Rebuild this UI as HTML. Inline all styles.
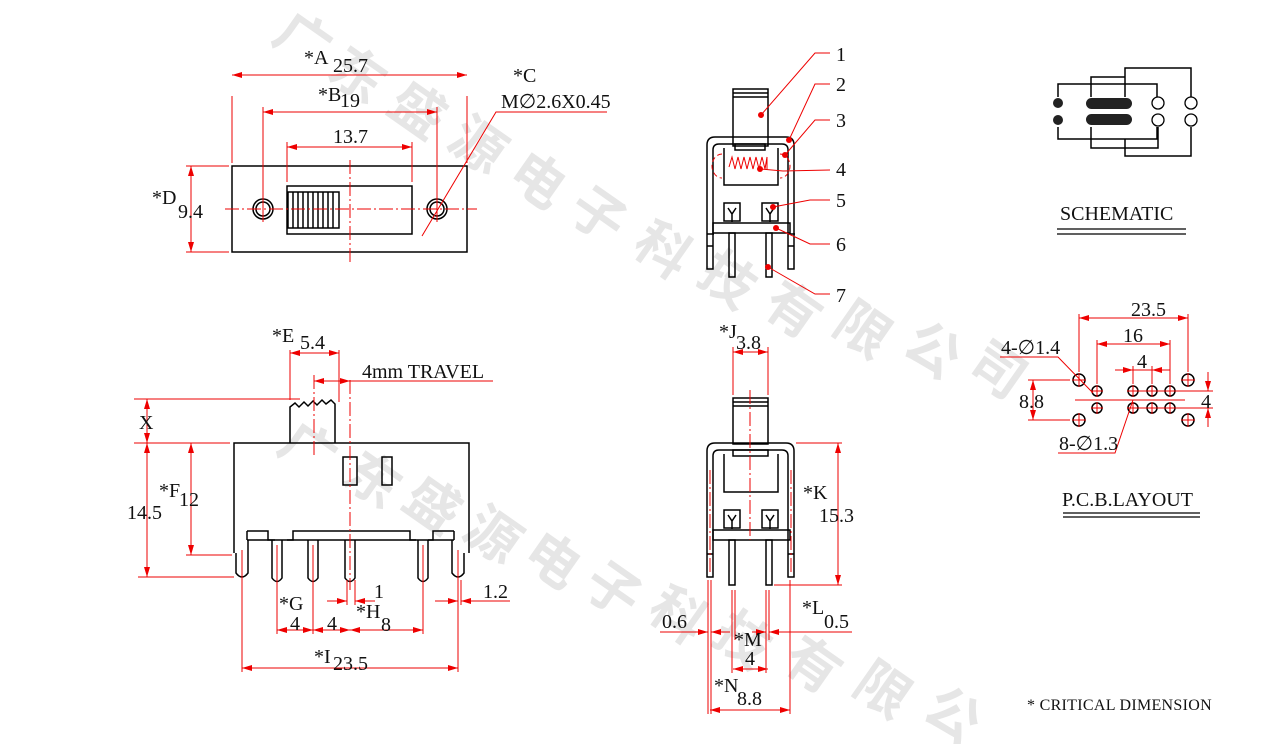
<!DOCTYPE html>
<html><head><meta charset="utf-8"><style>
html,body{margin:0;padding:0;background:#fff;}
svg{display:block;font-family:"Liberation Serif",serif;}
.k{stroke:#000;stroke-width:1.5;fill:none}
.r{stroke:#e00;stroke-width:1;fill:none}
.c{stroke:#e00;stroke-width:1;fill:none;stroke-dasharray:14 3 2 3}
.t{font-size:20px;fill:#111}
.w{font-family:"Noto Sans CJK SC",sans-serif;font-size:54px;fill:#e6e6e6;font-weight:bold}
</style></head><body>
<svg width="1267" height="744" viewBox="0 0 1267 744" xmlns="http://www.w3.org/2000/svg">
<defs>
<marker id="a" viewBox="0 0 10 6" refX="10" refY="3" markerWidth="10" markerHeight="6" orient="auto-start-reverse" markerUnits="userSpaceOnUse"><path d="M0,0 L10,3 L0,6z" fill="#e00"/></marker>
</defs>
<g class="w">
<text transform="translate(270,40) rotate(35)">广</text>
<text transform="translate(325,75) rotate(35)">东</text>
<text transform="translate(385,110) rotate(35)">盛</text>
<text transform="translate(445,145) rotate(35)">源</text>
<text transform="translate(505,180) rotate(35)">电</text>
<text transform="translate(565,215) rotate(35)">子</text>
<text transform="translate(630,250) rotate(35)">科</text>
<text transform="translate(695,280) rotate(35)">技</text>
<text transform="translate(760,310) rotate(35)">有</text>
<text transform="translate(830,330) rotate(35)">限</text>
<text transform="translate(900,350) rotate(35)">公</text>
<text transform="translate(965,370) rotate(35)">司</text>
<text transform="translate(275,450) rotate(35)">广</text>
<text transform="translate(340,480) rotate(35)">东</text>
<text transform="translate(400,505) rotate(35)">盛</text>
<text transform="translate(460,535) rotate(35)">源</text>
<text transform="translate(520,560) rotate(35)">电</text>
<text transform="translate(580,590) rotate(35)">子</text>
<text transform="translate(645,615) rotate(35)">科</text>
<text transform="translate(710,640) rotate(35)">技</text>
<text transform="translate(780,665) rotate(35)">有</text>
<text transform="translate(850,690) rotate(35)">限</text>
<text transform="translate(920,715) rotate(35)">公</text>
</g>

<rect class="k" x="232" y="166" width="235" height="86"/>
<rect class="k" x="287" y="186" width="125" height="48"/>
<rect class="k" x="288" y="192" width="51" height="36"/>
<path class="k" stroke-width="1" d="M293,192v36M298,192v36M303,192v36M308,192v36M313,192v36M318,192v36M323,192v36M328,192v36M333,192v36"/>
<circle class="k" cx="263" cy="209" r="10"/><circle class="k" cx="263" cy="209" r="7"/>
<circle class="k" cx="437" cy="209" r="10"/><circle class="k" cx="437" cy="209" r="7"/>
<line class="c" x1="225" y1="209" x2="477" y2="209"/>
<line class="c" x1="350" y1="160" x2="350" y2="262"/>
<path class="r" d="M232,163V96M467,163V96M263,222V107M437,222V107M287,182V142M412,182V142M229,166H186M229,252H186"/>
<line class="r" x1="232" y1="75" x2="467" y2="75" marker-start="url(#a)" marker-end="url(#a)"/>
<line class="r" x1="263" y1="112" x2="437" y2="112" marker-start="url(#a)" marker-end="url(#a)"/>
<line class="r" x1="287" y1="147" x2="412" y2="147" marker-start="url(#a)" marker-end="url(#a)"/>
<line class="r" x1="191" y1="166" x2="191" y2="252" marker-start="url(#a)" marker-end="url(#a)"/>
<path class="r" d="M607,112H496L422,236"/>
<text class="t" x="304" y="64">*A</text><text class="t" x="333" y="72">25.7</text>
<text class="t" x="318" y="101">*B</text><text class="t" x="340" y="107">19</text>
<text class="t" x="333" y="143">13.7</text>
<text class="t" x="152" y="204">*D</text><text class="t" x="178" y="218">9.4</text>
<text class="t" x="513" y="82">*C</text><text class="t" x="501" y="108">M∅2.6X0.45</text>

<path class="k" d="M290,443V407l5,-4 4,4 5,-5 4,4 5,-5 4,4 5,-5 4,4 5,-4 4,4V443"/>
<path class="k" d="M234,553V443H469V553"/>
<path class="k" d="M247,531H268V540H275M287,540H293V531H410V540H416M428,540H433V531H454"/>
<path class="k" d="M247,531V540M454,531V540M247,540H454"/>
<path class="k" d="M236,553V573q6,8 12,0V540"/>
<path class="k" d="M452,540V573q6,8 12,0V553"/>
<path class="k" d="M272,540V578q5,7 10,0V540"/>
<path class="k" d="M308,540V578q5,7 10,0V540"/>
<path class="k" d="M345,540V578q5,7 10,0V540"/>
<path class="k" d="M418,540V578q5,7 10,0V540"/>
<rect class="k" x="343" y="457" width="14" height="28"/>
<rect class="k" x="382" y="457" width="10" height="28"/>
<line class="c" x1="350" y1="380" x2="350" y2="590"/>
<line class="c" x1="314" y1="375" x2="314" y2="455"/>
<path class="r" d="M290,400V350M339,402V350M314,378V385M134,399H300M134,443H230M186,555H232M138,577H234"/>
<path class="r" d="M242,550V672M458,550V672M277,545V634M313,545V634M423,545V634M458,580V605M461,580V605M347,580V605M355,580V605"/>
<line class="r" x1="290" y1="353" x2="339" y2="353" marker-start="url(#a)" marker-end="url(#a)"/>
<line class="r" x1="314" y1="381" x2="350" y2="381" marker-start="url(#a)" marker-end="url(#a)"/>
<path class="r" d="M350,381H493"/>
<line class="r" x1="147" y1="399" x2="147" y2="443" marker-start="url(#a)" marker-end="url(#a)"/>
<line class="r" x1="147" y1="443" x2="147" y2="577" marker-start="url(#a)" marker-end="url(#a)"/>
<line class="r" x1="191" y1="443" x2="191" y2="555" marker-start="url(#a)" marker-end="url(#a)"/>
<line class="r" x1="277" y1="630" x2="313" y2="630" marker-start="url(#a)" marker-end="url(#a)"/>
<line class="r" x1="313" y1="630" x2="350" y2="630" marker-start="url(#a)" marker-end="url(#a)"/>
<line class="r" x1="350" y1="630" x2="423" y2="630" marker-start="url(#a)" marker-end="url(#a)"/>
<line class="r" x1="242" y1="668" x2="458" y2="668" marker-start="url(#a)" marker-end="url(#a)"/>
<line class="r" x1="327" y1="601" x2="347" y2="601" marker-end="url(#a)"/>
<line class="r" x1="375" y1="601" x2="355" y2="601" marker-end="url(#a)"/>
<line class="r" x1="435" y1="601" x2="458" y2="601" marker-end="url(#a)"/>
<line class="r" x1="510" y1="601" x2="461" y2="601" marker-end="url(#a)"/>
<text class="t" x="272" y="342">*E</text><text class="t" x="300" y="349">5.4</text>
<text class="t" x="362" y="378">4mm TRAVEL</text>
<text class="t" x="139" y="429">X</text>
<text class="t" x="127" y="519">14.5</text>
<text class="t" x="159" y="497">*F</text><text class="t" x="179" y="506">12</text>
<text class="t" x="279" y="610">*G</text>
<text class="t" x="290" y="630">4</text><text class="t" x="327" y="630">4</text>
<text class="t" x="374" y="598">1</text>
<text class="t" x="356" y="618">*H</text><text class="t" x="381" y="631">8</text>
<text class="t" x="483" y="598">1.2</text>
<text class="t" x="314" y="663">*I</text><text class="t" x="333" y="670">23.5</text>

<g>
<rect class="k" x="733" y="89" width="35" height="57"/>
<path class="k" stroke-width="1" d="M733,93H768M733,97H768"/>
<path class="k" d="M707,269V145q0,-8 8,-8H786q8,0 8,8V269H788V150q0,-6 -6,-6H719q-6,0 -6,6V269Z"/>
<rect class="k" x="735" y="144" width="30" height="6"/>
<path class="k" d="M724,148V185H778V148"/>
<path class="r" d="M729,167l3,-10 3,12 3,-12 3,12 3,-12 3,12 3,-12 3,12 3,-12 3,12 3,-12 3,12 2,-12V170"/>
<path class="r" stroke-dasharray="5 3" d="M722,154a10,12 0 1 0 0,24M780,154a10,12 0 1 1 0,24"/>
<rect class="k" x="724" y="203" width="16" height="18"/>
<rect class="k" x="762" y="203" width="16" height="18"/>
<path class="k" stroke-width="1" d="M728,208l4,6 4,-6M732,214v8M766,208l4,6 4,-6M770,214v8"/>
<rect class="k" x="713" y="223" width="77" height="10"/>
<path class="k" d="M714,234H707M788,234H795"/>
<rect class="k" x="729" y="233" width="6" height="44"/>
<rect class="k" x="766" y="233" width="6" height="44"/>
<path class="k" stroke-width="1" d="M713,246H707M788,246H794"/>
</g>
<g fill="#e00">
<circle cx="761" cy="115" r="3"/><circle cx="789" cy="140" r="3"/><circle cx="785" cy="155" r="3"/>
<circle cx="760" cy="169" r="3"/><circle cx="773" cy="207" r="3"/><circle cx="776" cy="228" r="3"/><circle cx="768" cy="267" r="3"/>
</g>
<path class="r" stroke-width="1.3" d="M761,115L815,53H830M789,140L815,84H830M785,155L815,120H830M760,169L783,171L830,170M773,207L810,200H830M776,228L810,244H830M768,267L815,294H830"/>
<text class="t" x="836" y="61">1</text><text class="t" x="836" y="91">2</text><text class="t" x="836" y="127">3</text>
<text class="t" x="836" y="176">4</text><text class="t" x="836" y="207">5</text><text class="t" x="836" y="251">6</text><text class="t" x="836" y="302">7</text>

<g>
<rect class="k" x="733" y="398" width="35" height="46"/>
<path class="k" stroke-width="1" d="M733,402H768M733,406H768"/>
<path class="k" d="M707,577V451q0,-8 8,-8H786q8,0 8,8V577H788V456q0,-6 -6,-6H719q-6,0 -6,6V577Z"/>
<rect class="k" x="733" y="450" width="35" height="6"/>
<path class="k" d="M724,454V492H778V454"/>
<rect class="k" x="724" y="510" width="16" height="18"/>
<rect class="k" x="762" y="510" width="16" height="18"/>
<path class="k" stroke-width="1" d="M728,515l4,6 4,-6M732,521v8M766,515l4,6 4,-6M770,521v8"/>
<rect class="k" x="713" y="530" width="77" height="10"/>
<rect class="k" x="729" y="540" width="6" height="45"/>
<rect class="k" x="766" y="540" width="6" height="45"/>
<path class="k" stroke-width="1" d="M713,554H707M788,554H794"/>
</g>
<line class="c" x1="750" y1="390" x2="750" y2="540"/>
<path class="c" d="M710,470V575M791,470V575"/>
<path class="r" d="M733,395V347M768,395V347M796,443H842M774,585H842M708,580V714M711,580V714M732,590V673M735,590V640M766,590V673M769,590V640M790,580V714"/>
<line class="r" x1="733" y1="352" x2="768" y2="352" marker-start="url(#a)" marker-end="url(#a)"/>
<line class="r" x1="838" y1="443" x2="838" y2="585" marker-start="url(#a)" marker-end="url(#a)"/>
<line class="r" x1="660" y1="632" x2="708" y2="632" marker-end="url(#a)"/>
<line class="r" x1="730" y1="632" x2="711" y2="632" marker-end="url(#a)"/>
<line class="r" x1="752" y1="632" x2="766" y2="632" marker-end="url(#a)"/>
<line class="r" x1="852" y1="632" x2="769" y2="632" marker-end="url(#a)"/>
<line class="r" x1="733" y1="669" x2="768" y2="669" marker-start="url(#a)" marker-end="url(#a)"/>
<line class="r" x1="710" y1="710" x2="790" y2="710" marker-start="url(#a)" marker-end="url(#a)"/>
<text class="t" x="719" y="338">*J</text><text class="t" x="736" y="349">3.8</text>
<text class="t" x="803" y="499">*K</text><text class="t" x="819" y="522">15.3</text>
<text class="t" x="662" y="628">0.6</text>
<text class="t" x="802" y="614">*L</text><text class="t" x="824" y="628">0.5</text>
<text class="t" x="734" y="646">*M</text><text class="t" x="745" y="665">4</text>
<text class="t" x="714" y="692">*N</text><text class="t" x="737" y="705">8.8</text>

<g stroke="#000" stroke-width="1.5" fill="none">
<path d="M1058,97V84H1157V97M1091,97V77H1125V97M1125,77V68H1191V97"/>
<path d="M1058,127V139H1157V127M1091,127V148H1158V127M1125,139V156H1191V127"/>
</g>
<circle cx="1058" cy="103" r="5" fill="#222"/><circle cx="1058" cy="120" r="5" fill="#222"/>
<rect x="1086" y="98" width="46" height="11" rx="5.5" fill="#222"/>
<rect x="1086" y="114" width="46" height="11" rx="5.5" fill="#222"/>
<g stroke="#000" stroke-width="1.3" fill="#fff">
<circle cx="1158" cy="103" r="6"/><circle cx="1158" cy="120" r="6"/><circle cx="1191" cy="103" r="6"/><circle cx="1191" cy="120" r="6"/>
</g>
<text class="t" x="1060" y="220">SCHEMATIC</text>
<path stroke="#000" stroke-width="1.3" d="M1057,229H1186M1057,234H1186"/>

<g stroke="#000" stroke-width="1.5" fill="none">
<circle cx="1079" cy="380" r="6"/><circle cx="1079" cy="420" r="6"/><circle cx="1188" cy="380" r="6"/><circle cx="1188" cy="420" r="6"/>
<circle cx="1097" cy="391" r="5"/><circle cx="1133" cy="391" r="5"/><circle cx="1152" cy="391" r="5"/><circle cx="1170" cy="391" r="5"/>
<circle cx="1097" cy="408" r="5"/><circle cx="1133" cy="408" r="5"/><circle cx="1152" cy="408" r="5"/><circle cx="1170" cy="408" r="5"/>
</g>
<path class="r" d="M1079,372V314M1188,372V314M1097,384V340M1170,384V340M1133,384V366M1152,384V366M1070,380H1028M1070,420H1028M1163,391H1213M1163,408H1213M1075,400H1185"/>
<path class="r" d="M1079,373v14M1072,380h14M1079,413v14M1072,420h14M1188,373v14M1181,380h14M1188,413v14M1181,420h14M1097,385v12M1091,391h12M1097,402v12M1091,408h12M1133,385v12M1152,385v12M1170,385v12M1133,402v12M1152,402v12M1170,402v12M1127,391h49M1127,408h49"/>
<line class="r" x1="1079" y1="318" x2="1188" y2="318" marker-start="url(#a)" marker-end="url(#a)"/>
<line class="r" x1="1097" y1="344" x2="1170" y2="344" marker-start="url(#a)" marker-end="url(#a)"/>
<line class="r" x1="1115" y1="370" x2="1133" y2="370" marker-end="url(#a)"/>
<line class="r" x1="1170" y1="370" x2="1152" y2="370" marker-end="url(#a)"/>
<path class="r" d="M1133,370H1152"/>
<line class="r" x1="1033" y1="380" x2="1033" y2="420" marker-start="url(#a)" marker-end="url(#a)"/>
<line class="r" x1="1208" y1="372" x2="1208" y2="391" marker-end="url(#a)"/>
<line class="r" x1="1208" y1="427" x2="1208" y2="408" marker-end="url(#a)"/>
<path class="r" d="M1000,357H1058L1093,393M1058,453H1115L1133,400"/>
<text class="t" x="1131" y="316">23.5</text>
<text class="t" x="1123" y="342">16</text>
<text class="t" x="1137" y="368">4</text>
<text class="t" x="1001" y="354">4-∅1.4</text>
<text class="t" x="1019" y="408">8.8</text>
<text class="t" x="1201" y="408">4</text>
<text class="t" x="1059" y="450">8-∅1.3</text>
<text class="t" x="1062" y="506">P.C.B.LAYOUT</text>
<path stroke="#000" stroke-width="1.3" d="M1063,513H1200M1063,517H1200"/>

<text x="1027" y="710" style="font-size:16px;fill:#111;letter-spacing:0.3px">* CRITICAL  DIMENSION</text>
</svg>
</body></html>
